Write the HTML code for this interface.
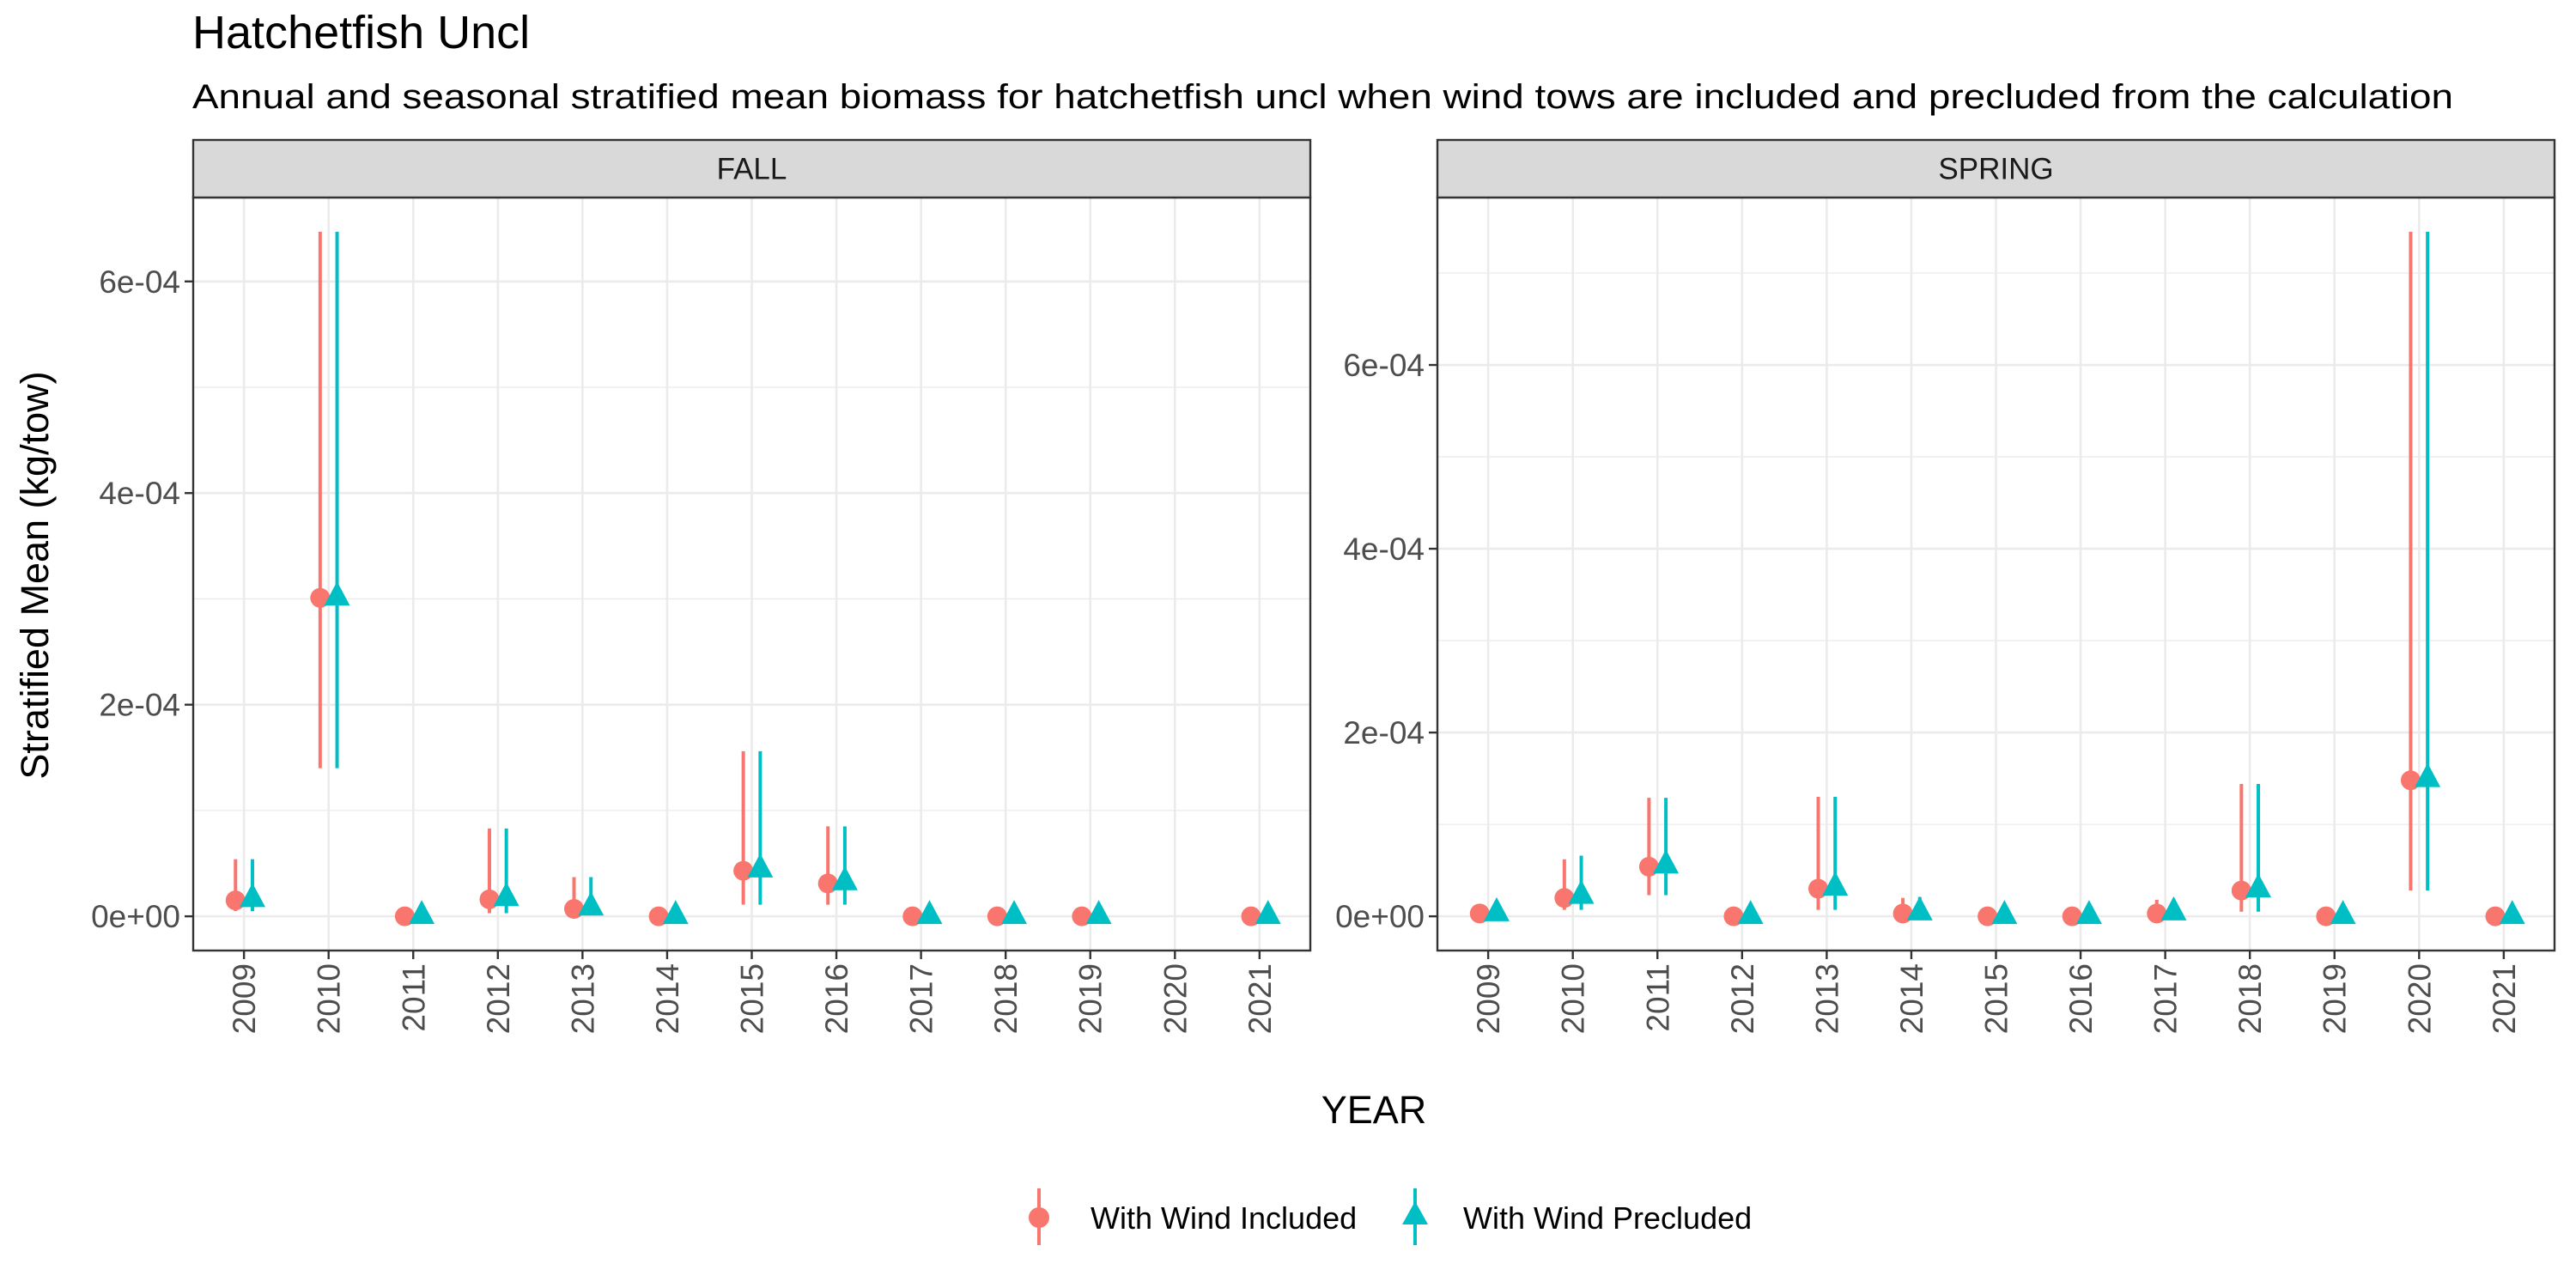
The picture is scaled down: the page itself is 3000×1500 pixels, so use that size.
<!DOCTYPE html>
<html><head><meta charset="utf-8"><style>
html,body{margin:0;padding:0;background:#fff;}
svg{display:block;font-family:"Liberation Sans",Arial,sans-serif;}
</style></head><body>
<svg id="chart" width="3000" height="1500" viewBox="0 0 3000 1500" xmlns="http://www.w3.org/2000/svg">
<text x="224" y="56" font-size="54" fill="#000">Hatchetfish Uncl</text>
<text x="224" y="126" font-size="40" fill="#000" textLength="2633" lengthAdjust="spacingAndGlyphs">Annual and seasonal stratified mean biomass for hatchetfish uncl when wind tows are included and precluded from the calculation</text>
<text transform="translate(56,670) rotate(-90)" text-anchor="middle" font-size="45" fill="#000">Stratified Mean (kg/tow)</text>
<text x="1600" y="1308" text-anchor="middle" font-size="45" fill="#000">YEAR</text>
<g id="panels"></g>
<g>
 <g>
  <line x1="1210" y1="1384" x2="1210" y2="1450" stroke="#F8766D" stroke-width="4"/>
  <circle cx="1210" cy="1418" r="12" fill="#F8766D"/>
  <text x="1270" y="1431" font-size="36" fill="#000">With Wind Included</text>
 </g>
 <g>
  <line x1="1648" y1="1384" x2="1648" y2="1450" stroke="#00BFC4" stroke-width="4"/>
  <polygon points="1648,1399 1663,1426 1633,1426" fill="#00BFC4"/>
  <text x="1704" y="1431" font-size="36" fill="#000">With Wind Precluded</text>
 </g>
</g>
</svg>
<script>
const years = [2009,2010,2011,2012,2013,2014,2015,2016,2017,2018,2019,2020,2021];
// values in units of 1e-4 kg/tow; null = no data
const fallIncMean = [0.15,3.01,0,0.16,0.07,0,0.43,0.31,0,0,0,null,0];
const fallIncLo   = [0.05,1.40,0,0.03,0.02,0,0.11,0.11,0,0,0,null,0];
const fallIncHi   = [0.54,6.47,0,0.83,0.37,0,1.56,0.85,0,0,0,null,0];
const fallPreMean = [0.16,3.01,0,0.17,0.08,0,0.44,0.32,0,0,0,null,0];
const fallPreLo   = [0.05,1.40,0,0.03,0.02,0,0.11,0.11,0,0,0,null,0];
const fallPreHi   = [0.54,6.47,0,0.83,0.37,0,1.56,0.85,0,0,0,null,0];
const sprIncMean = [0.03,0.20,0.54,0,0.30,0.03,0,0,0.03,0.28,0,1.48,0];
const sprIncLo   = [0.01,0.07,0.23,0,0.07,0,0,0,0,0.05,0,0.28,0];
const sprIncHi   = [0.06,0.62,1.29,0,1.30,0.20,0,0,0.18,1.44,0,7.45,0];
const sprPreMean = [0.03,0.22,0.55,0,0.31,0.04,0,0,0.04,0.29,0,1.49,0];
const sprPreLo   = [0.01,0.07,0.23,0,0.07,0,0,0,0,0.05,0,0.28,0];
const sprPreHi   = [0.06,0.66,1.29,0,1.30,0.21,0,0,0.19,1.44,0,7.45,0];
const yTicks = [0,2,4,6];
const yTickLabels = ["0e+00","2e-04","4e-04","6e-04"];

const NS="http://www.w3.org/2000/svg";
const root=document.getElementById('panels');
function mk(tag,attrs,parent){const e=document.createElementNS(NS,tag);for(const k in attrs)e.setAttribute(k,attrs[k]);parent.appendChild(e);return e;}

function panel(name,x0,x1,incM,incL,incH,preM,preL,preH){
  const top=230,bot=1107,stripTop=163;
  const g=mk('g',{},root);
  
  
  let hi=0;
  [incH,preH,incM,preM].forEach(a=>a.forEach(v=>{if(v!=null&&v>hi)hi=v;}));
  const pad=hi*0.05, ymin=-pad, ymax=hi+pad;
  const Y=v=>bot-(v-ymin)/(ymax-ymin)*(bot-top);
  const step=(x1-x0)/(years.length-1+1.2);
  const X=i=>x0+step*(0.6+i);
  mk('rect',{x:x0,y:top,width:x1-x0,height:bot-top,fill:'#fff'},g);
  for(let v=1;v<ymax;v+=2){mk('line',{x1:x0,x2:x1,y1:Y(v),y2:Y(v),stroke:'#EBEBEB','stroke-width':1.3},g);}
  yTicks.forEach((v,k)=>{
    mk('line',{x1:x0,x2:x1,y1:Y(v),y2:Y(v),stroke:'#EBEBEB','stroke-width':2.6},g);
    mk('line',{x1:x0-10,x2:x0,y1:Y(v),y2:Y(v),stroke:'#333','stroke-width':2.4},g);
    const t=mk('text',{x:x0-15,y:Y(v)+13,'text-anchor':'end','font-size':37,fill:'#4D4D4D'},g);
    
    
    t.textContent=yTickLabels[k];
  });
  years.forEach((yr,i)=>{
    mk('line',{x1:X(i),x2:X(i),y1:top,y2:bot,stroke:'#EBEBEB','stroke-width':2.6},g);
    mk('line',{x1:X(i),x2:X(i),y1:bot,y2:bot+10,stroke:'#333','stroke-width':2.4},g);
    const t=mk('text',{transform:`translate(${X(i)+13},${bot+15}) rotate(-90)`,'text-anchor':'end','font-size':37,fill:'#4D4D4D'},g);
    
    
    t.textContent=yr;
  });
  const d=step*0.1;
  years.forEach((yr,i)=>{
    if(incM[i]!=null){
      const cx=X(i)-d;
      const l=mk('line',{x1:cx,x2:cx,y1:Y(incL[i]),y2:Y(incH[i]),stroke:'#F8766D','stroke-width':4},g);
      
      
      const c=mk('circle',{cx:cx,cy:Y(incM[i]),r:11.5,fill:'#F8766D'},g);
      
      
    }
    if(preM[i]!=null){
      const cx=X(i)+d;
      const l=mk('line',{x1:cx,x2:cx,y1:Y(preL[i]),y2:Y(preH[i]),stroke:'#00BFC4','stroke-width':4},g);
      
      
      const cy=Y(preM[i]);
      const p=mk('polygon',{points:`${cx},${cy-19} ${cx+15},${cy+9} ${cx-15},${cy+9}`,fill:'#00BFC4'},g);
      
      
    }
  });
  mk('rect',{x:x0,y:top,width:x1-x0,height:bot-top,fill:'none',stroke:'#333','stroke-width':2.4},g);
  const s=mk('rect',{x:x0,y:stripTop,width:x1-x0,height:top-stripTop,fill:'#D9D9D9',stroke:'#333','stroke-width':2.4},g);
  
  
  const st=mk('text',{x:(x0+x1)/2,y:(stripTop+top)/2+12,'text-anchor':'middle','font-size':35,fill:'#1A1A1A'},g);
  
  
  st.textContent=name;
}
panel('FALL',225,1526,fallIncMean,fallIncLo,fallIncHi,fallPreMean,fallPreLo,fallPreHi);
panel('SPRING',1674,2975,sprIncMean,sprIncLo,sprIncHi,sprPreMean,sprPreLo,sprPreHi);
</script>
</body></html>
